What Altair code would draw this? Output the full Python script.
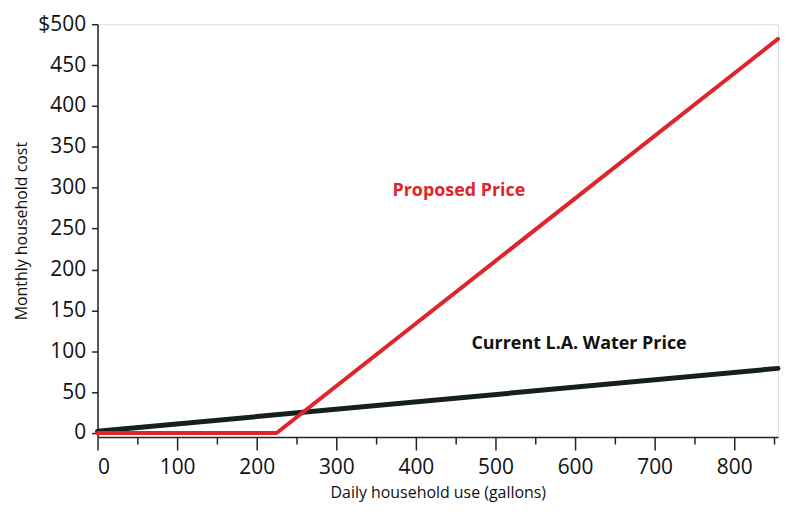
import altair as alt
import pandas as pd

# Data
proposed_x = [0, 225, 855]
proposed_y = [0, 0, 482]
current_x = [0, 855]
current_y = [2, 79]

label_text = ["Proposed Price", "Current L.A. Water Price"]
label_x = [454, 605]
label_y = [296, 109]
label_color = ["#e0242b", "#111111"]

y_ticks = list(range(0, 501, 50))
x_ticks = list(range(0, 856, 25))

lines = pd.DataFrame(
    [{"series": "Current", "x": x, "y": y} for x, y in zip(current_x, current_y)]
    + [{"series": "Proposed", "x": x, "y": y} for x, y in zip(proposed_x, proposed_y)]
)
labels = pd.DataFrame({"text": label_text, "x": label_x, "y": label_y, "c": label_color})

FONT = "Open Sans"

xscale = alt.Scale(domain=[0, 855], nice=False, zero=False)
yscale = alt.Scale(domain=[-5, 500], nice=False, zero=False)

xaxis = alt.Axis(
    title="Daily household use (gallons)",
    values=x_ticks,
    labelExpr="datum.value % 100 == 0 ? datum.label : ''",
    tickSize={"condition": {"test": "datum.value % 100 == 0", "value": 13}, "value": 7},
    tickColor="#222",
    tickWidth=1.5,
    domainColor="#222",
    domainWidth=1.5,
    labelFont=FONT,
    labelFontSize=21,
    labelColor="#111",
    labelPadding=7,
    titleFont=FONT,
    titleFontSize=16,
    titleFontWeight="normal",
    titleColor="#111",
    titlePadding=7,
    grid=False,
    format="d",
)
yaxis = alt.Axis(
    title="Monthly household cost",
    values=y_ticks,
    labelExpr="datum.value == 500 ? '$500' : datum.label",
    tickSize=6,
    tickColor="#222",
    tickWidth=1.5,
    domainColor="#222",
    domainWidth=1.5,
    labelFont=FONT,
    labelFontSize=21,
    labelColor="#111",
    labelPadding=6,
    titleFont=FONT,
    titleFontSize=16,
    titleFontWeight="normal",
    titleColor="#111",
    titlePadding=8,
    grid=False,
    format="d",
)

base_lines = alt.Chart(lines).mark_line(strokeCap="round", strokeJoin="round").encode(
    x=alt.X("x:Q", scale=xscale, axis=xaxis),
    y=alt.Y("y:Q", scale=yscale, axis=yaxis),
    color=alt.Color("series:N", scale=alt.Scale(domain=["Current", "Proposed"], range=["#15201d", "#e0242b"]), legend=None),
    strokeWidth=alt.StrokeWidth("series:N", scale=alt.Scale(domain=["Current", "Proposed"], range=[5, 4]), legend=None),
    order=alt.Order("x:Q"),
)

text = alt.Chart(labels).mark_text(font=FONT, fontSize=18, fontWeight="bold").encode(
    x=alt.X("x:Q", scale=xscale),
    y=alt.Y("y:Q", scale=yscale),
    text="text:N",
    color=alt.Color("c:N", scale=None),
)

chart = (
    alt.layer(base_lines, text)
    .properties(width=684, height=415, padding={"left": 5, "top": 4, "right": 0, "bottom": 2})
    .configure_view(stroke=None)
    .configure(background="white")
)

chart.save("out.html", embed_options={"renderer": "svg", "actions": False})
